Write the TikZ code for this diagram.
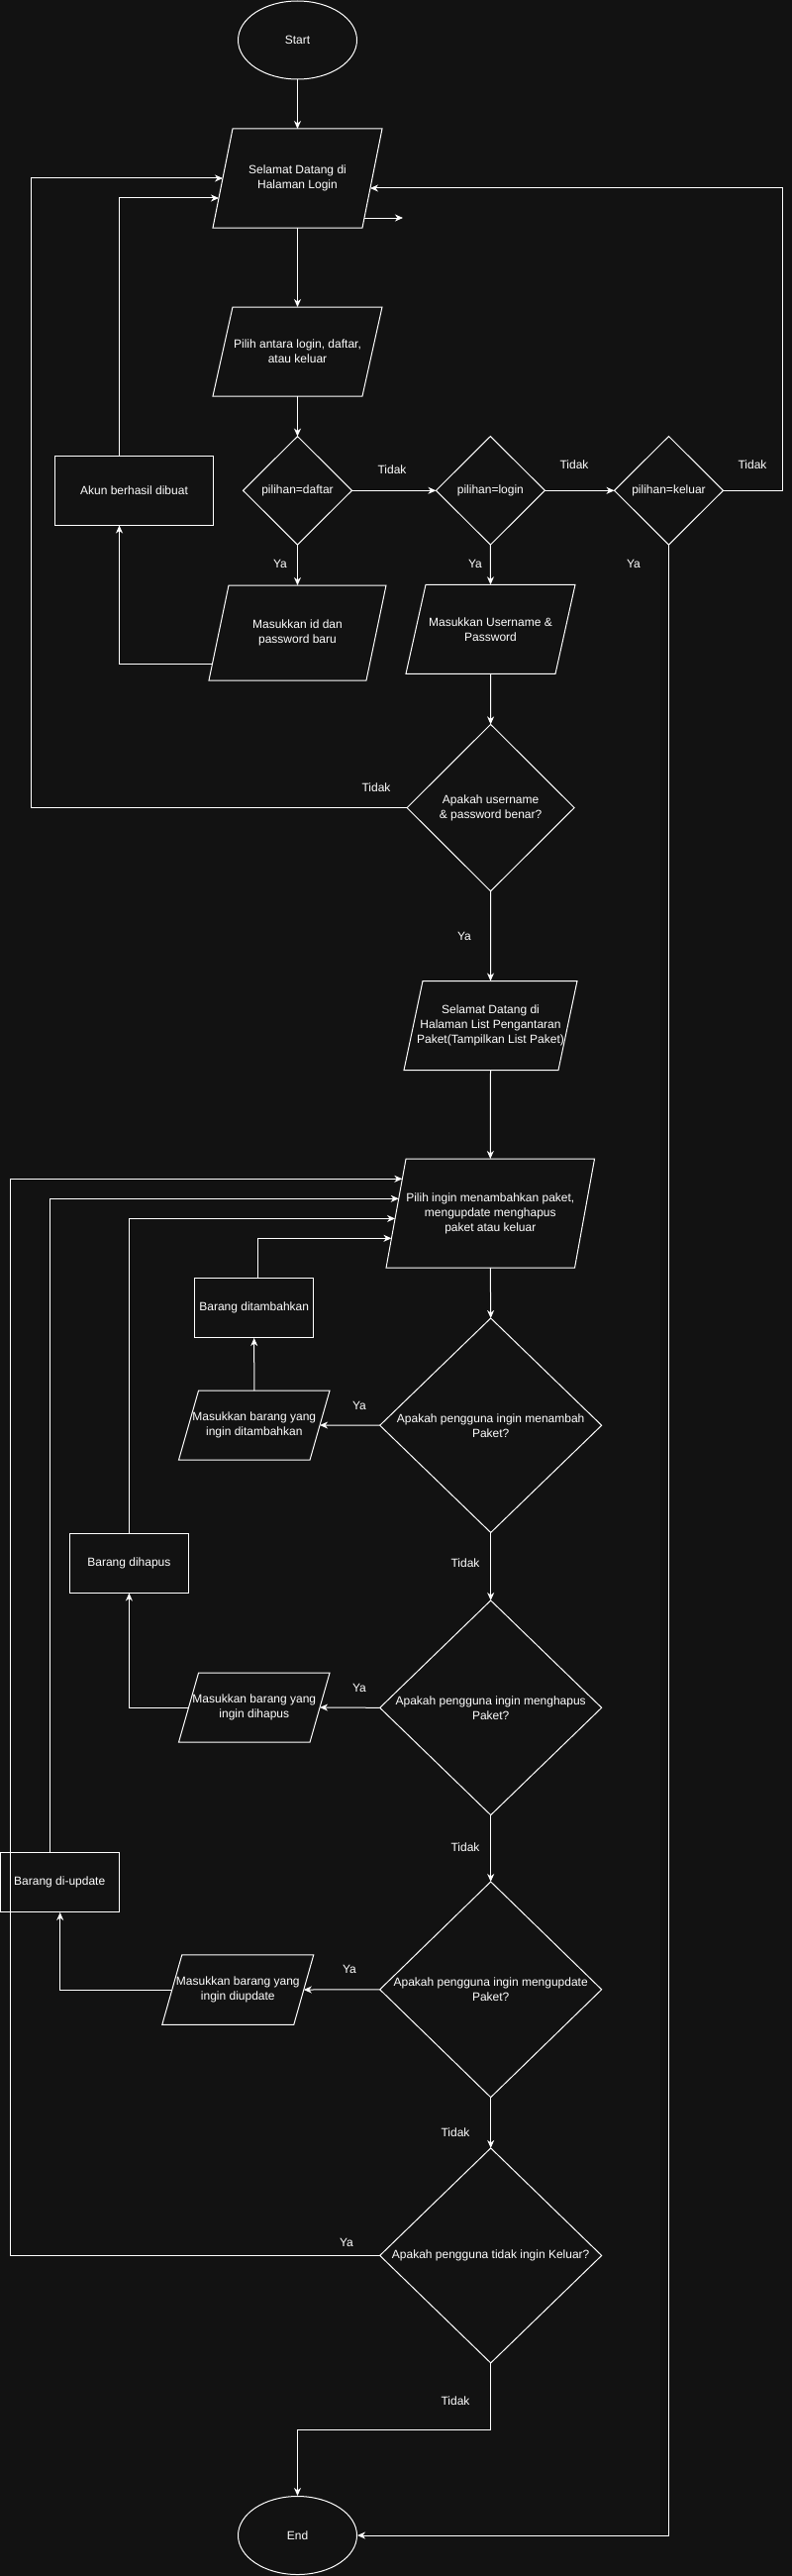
\documentclass[tikz,border=0pt]{standalone}
\usepackage{fontspec}
\setmainfont{Liberation Sans}
\usetikzlibrary{calc,arrows.meta,shapes.geometric}
\definecolor{bgc}{HTML}{121212}
\tikzset{
  txt/.style={inner sep=0pt, outer sep=0pt, align=center, text=white, font=\fontsize{12}{15}\selectfont},
  shapeline/.style={draw=white, line width=1pt},
  conn/.style={draw=white, line width=1pt, -{Stealth[length=8pt,width=7pt,inset=2.5pt]}},
  lbl/.style={text=white, font=\fontsize{12}{15}\selectfont, inner sep=0pt},
  ell/.style={ellipse, draw=white, line width=1pt, inner sep=0pt, minimum width=120, minimum height=79, text=white, font=\fontsize{12}{15}\selectfont},
  box/.style={rectangle, draw=white, line width=1pt, inner sep=0pt, align=center, text=white, font=\fontsize{12}{15}\selectfont},
}
\newcommand\pgm[7]{% name x y w h skew text
  \node[txt, minimum width=#4, minimum height=#5] (#1) at (#2,#3) {#7};
  \draw[shapeline] ($(#1.north west)+(#6/2,0)$) -- ($(#1.north east)+(#6/2,0)$) -- ($(#1.south east)+(-#6/2,0)$) -- ($(#1.south west)+(-#6/2,0)$) -- cycle;
}
\newcommand\dmd[6]{% name x y w h text
  \node[txt, minimum width=#4, minimum height=#5] (#1) at (#2,#3) {#6};
  \draw[shapeline] (#1.north) -- (#1.east) -- (#1.south) -- (#1.west) -- cycle;
}
\begin{document}
\begin{tikzpicture}[x=1pt,y=-1pt]
\fill[bgc] (0,0) rectangle (800,2601);
\useasboundingbox (0,0) rectangle (800,2601);

% nodes
\node[ell] (startn) at (300.5,40.5) {Start};
\pgm{login}{300.5}{180}{151}{100}{20}{Selamat Datang di\\Halaman Login}
\pgm{pilih}{300.5}{355}{151}{90}{20}{Pilih antara login, daftar,\\atau keluar}
\dmd{daftar}{300.5}{495.3}{110}{109.5}{pilihan=daftar}
\dmd{logindia}{495.4}{495.3}{110}{109.5}{pilihan=login}
\dmd{keluardia}{675.5}{495.3}{110}{109.5}{pilihan=keluar}
\node[box, minimum width=160, minimum height=70] (akun) at (135.5,495) {Akun berhasil dibuat};
\pgm{masukid}{300.5}{639}{159}{96}{20}{Masukkan id dan\\password baru}
\pgm{username}{495.5}{635.3}{151}{90}{20}{Masukkan Username \&\\Password}
\dmd{apakah}{495.6}{815.6}{169}{168.4}{Apakah username\\\& password benar?}
\pgm{list}{495.5}{1035.5}{156}{90}{19}{Selamat Datang di\\Halaman List Pengantaran\\Paket(Tampilkan List Paket)}
\pgm{pilihingin}{495.3}{1225}{190.5}{110}{20}{Pilih ingin menambahkan paket,\\mengupdate menghapus\\paket atau keluar}
\node[box, minimum width=120, minimum height=60] (tambahkan) at (256.7,1320.5) {Barang ditambahkan};
\dmd{menambah}{495.7}{1439.2}{224}{216.5}{Apakah pengguna ingin menambah\\Paket?}
\pgm{masuktambah}{256.8}{1439}{132.5}{70}{20}{Masukkan barang yang\\ingin ditambahkan}
\node[box, minimum width=120, minimum height=60] (dihapus) at (130.4,1578) {Barang dihapus};
\dmd{menghapus}{495.7}{1724.3}{224}{216.7}{Apakah pengguna ingin menghapus\\Paket?}
\pgm{masukhapus}{256.8}{1724}{132.5}{70}{20}{Masukkan barang yang\\ingin dihapus}
\node[box, minimum width=120, minimum height=60] (diupdate) at (60.2,1900.5) {Barang di-update};
\dmd{update}{495.7}{2008.8}{224}{217.7}{Apakah pengguna ingin mengupdate\\Paket?}
\pgm{masukupdate}{240.3}{2009}{133}{70.5}{20}{Masukkan barang yang\\ingin diupdate}
\dmd{keluar}{495.7}{2277.4}{224}{217}{Apakah pengguna tidak ingin Keluar?}
\node[ell] (endn) at (300.5,2560) {End};
\coordinate (stray) at (407,220);

% connectors
\draw[conn] (startn.south) -- (login.north);
\draw[conn] (login.south) -- (pilih.north);
\draw[conn] (pilih.south) -- (daftar.north);
\draw[conn] (daftar.east) -- (logindia.west);
\draw[conn] (logindia.east) -- (keluardia.west);
\draw[conn] (keluardia.east) -- ++(59.5,0) |- ($(login.east)+(-2,10)$);
\draw[conn] (daftar.south) -- (masukid.north);
\draw[conn] (logindia.south) -- (username.north);
\draw[conn] (keluardia.south) |- (endn.east);
\draw[conn] ($(masukid.west)+(-6.5,31)$) -| ($(akun.south)+(-15,0)$);
\draw[conn] ($(akun.north)+(-15,0)$) |- ($(login.west)+(-4,20)$);
\draw[conn] ($(login.east)+(-8,40)$) -- (stray);
\draw[conn] (username.south) -- (apakah.north);
\draw[conn] (apakah.west) -- ++(-380,0) |- (login.west);
\draw[conn] (apakah.south) -- (list.north);
\draw[conn] (list.south) -- (pilihingin.north);
\draw[conn] (pilihingin.south) -- (menambah.north);
\draw[conn] (menambah.west) -- (masuktambah.east);
\draw[conn] (masuktambah.north) -- (tambahkan.south);
\draw[conn] ($(tambahkan.north)+(3.6,0)$) |- ($(pilihingin.west)+(-4.6,25.3)$);
\draw[conn] (menambah.south) -- (menghapus.north);
\draw[conn] (menghapus.west) -- (masukhapus.east);
\draw[conn] (masukhapus.west) -| (dihapus.south);
\draw[conn] (dihapus.north) |- ($(pilihingin.west)+(-1,5.4)$);
\draw[conn] (menghapus.south) -- (update.north);
\draw[conn] (update.west) -- (masukupdate.east);
\draw[conn] (masukupdate.west) -| ($(diupdate.south)+(0.5,0)$);
\draw[conn] ($(diupdate.north)+(-9.7,0)$) |- ($(pilihingin.west)+(2.7,-14.7)$);
\draw[conn] (update.south) -- (keluar.north);
\draw[conn] (keluar.west) -- ++(-373,0) |- ($(pilihingin.west)+(6.3,-34.7)$);
\draw[conn] (keluar.south) -- ++(0,67.6) -| (endn.north);

% labels
\node[lbl] (l1) at (396,474.5) {Tidak};
\node[lbl] (l2) at (580,469.6) {Tidak};
\node[lbl] (l3) at (760,469.6) {Tidak};
\node[lbl] (l4) at (283,569.6) {Ya};
\node[lbl] (l5) at (480,569.6) {Ya};
\node[lbl] (l6) at (640,569.6) {Ya};
\node[lbl] (l7) at (380,795) {Tidak};
\node[lbl] (l8) at (469,945) {Ya};
\node[lbl] (l9) at (363,1419) {Ya};
\node[lbl] (l10) at (470,1577.8) {Tidak};
\node[lbl] (l11) at (363,1704) {Ya};
\node[lbl] (l12) at (470,1864.7) {Tidak};
\node[lbl] (l13) at (353,1988.6) {Ya};
\node[lbl] (l14) at (460,2153.4) {Tidak};
\node[lbl] (l15) at (350,2264) {Ya};
\node[lbl] (l16) at (460,2424.5) {Tidak};
\end{tikzpicture}
\end{document}
